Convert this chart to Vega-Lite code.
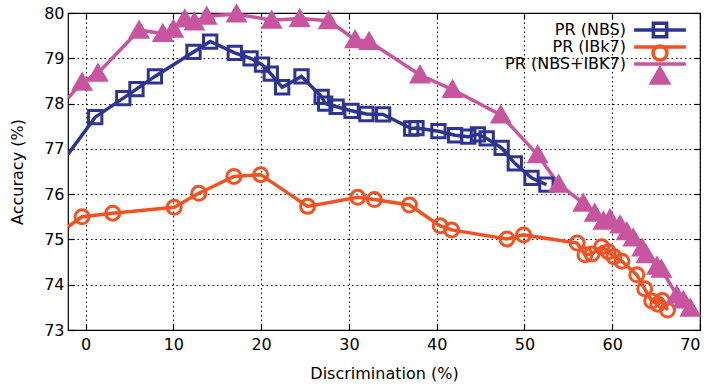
{
  "$schema": "https://vega.github.io/schema/vega-lite/v6.json",
  "width": 632,
  "height": 317,
  "autosize": {"type": "none"},
  "padding": {"left": 68, "top": 13, "right": 13, "bottom": 59},
  "background": "white",
  "config": {
    "font": "DejaVu Sans",
    "view": {"stroke": "black", "strokeWidth": 1.2},
    "axis": {
      "labelFont": "DejaVu Sans",
      "titleFont": "DejaVu Sans",
      "labelFontSize": 16,
      "titleFontSize": 16,
      "titleFontWeight": "normal",
      "labelColor": "black",
      "titleColor": "black",
      "tickColor": "black",
      "tickWidth": 1.2,
      "domain": false
    },
    "legend": {
      "orient": "none",
      "legendX": 583,
      "legendY": 8,
      "title": null,
      "padding": 0,
      "labelFont": "DejaVu Sans",
      "labelFontSize": 16,
      "labelColor": "black",
      "labelAlign": "right",
      "labelOffset": -43,
      "symbolSize": 196,
      "rowPadding": -9,
      "symbolStrokeWidth": 3.5
    }
  },
  "datasets": {
    "acc": [
      {"series": "PR (NBS)", "x": -2, "y": 76.88},
      {"series": "PR (NBS)", "x": 1.1, "y": 77.70},
      {"series": "PR (NBS)", "x": 4.3, "y": 78.12},
      {"series": "PR (NBS)", "x": 5.8, "y": 78.32},
      {"series": "PR (NBS)", "x": 7.9, "y": 78.60},
      {"series": "PR (NBS)", "x": 12.3, "y": 79.14},
      {"series": "PR (NBS)", "x": 14.2, "y": 79.37},
      {"series": "PR (NBS)", "x": 17.0, "y": 79.12},
      {"series": "PR (NBS)", "x": 18.8, "y": 79.00},
      {"series": "PR (NBS)", "x": 20.1, "y": 78.86},
      {"series": "PR (NBS)", "x": 21.1, "y": 78.66},
      {"series": "PR (NBS)", "x": 22.4, "y": 78.36},
      {"series": "PR (NBS)", "x": 24.6, "y": 78.60},
      {"series": "PR (NBS)", "x": 26.9, "y": 78.15},
      {"series": "PR (NBS)", "x": 27.3, "y": 78.00},
      {"series": "PR (NBS)", "x": 28.6, "y": 77.93},
      {"series": "PR (NBS)", "x": 30.3, "y": 77.84},
      {"series": "PR (NBS)", "x": 32.0, "y": 77.77},
      {"series": "PR (NBS)", "x": 33.9, "y": 77.76},
      {"series": "PR (NBS)", "x": 37.1, "y": 77.45},
      {"series": "PR (NBS)", "x": 37.7, "y": 77.46},
      {"series": "PR (NBS)", "x": 40.2, "y": 77.39},
      {"series": "PR (NBS)", "x": 42.1, "y": 77.30},
      {"series": "PR (NBS)", "x": 43.6, "y": 77.27},
      {"series": "PR (NBS)", "x": 44.7, "y": 77.32},
      {"series": "PR (NBS)", "x": 45.7, "y": 77.23},
      {"series": "PR (NBS)", "x": 47.4, "y": 77.02},
      {"series": "PR (NBS)", "x": 48.9, "y": 76.68},
      {"series": "PR (NBS)", "x": 50.8, "y": 76.36},
      {"series": "PR (NBS)", "x": 52.5, "y": 76.21},
      {"series": "PR (IBk7)", "x": -2, "y": 75.28},
      {"series": "PR (IBk7)", "x": -0.4, "y": 75.50},
      {"series": "PR (IBk7)", "x": 3.1, "y": 75.58},
      {"series": "PR (IBk7)", "x": 10.1, "y": 75.71},
      {"series": "PR (IBk7)", "x": 12.9, "y": 76.02},
      {"series": "PR (IBk7)", "x": 16.9, "y": 76.39},
      {"series": "PR (IBk7)", "x": 19.95, "y": 76.43},
      {"series": "PR (IBk7)", "x": 25.3, "y": 75.73},
      {"series": "PR (IBk7)", "x": 31.0, "y": 75.93},
      {"series": "PR (IBk7)", "x": 32.9, "y": 75.88},
      {"series": "PR (IBk7)", "x": 36.9, "y": 75.76},
      {"series": "PR (IBk7)", "x": 40.4, "y": 75.30},
      {"series": "PR (IBk7)", "x": 41.7, "y": 75.21},
      {"series": "PR (IBk7)", "x": 48.0, "y": 75.01},
      {"series": "PR (IBk7)", "x": 49.9, "y": 75.10},
      {"series": "PR (IBk7)", "x": 56.0, "y": 74.92},
      {"series": "PR (IBk7)", "x": 56.9, "y": 74.66},
      {"series": "PR (IBk7)", "x": 57.7, "y": 74.68},
      {"series": "PR (IBk7)", "x": 58.8, "y": 74.84},
      {"series": "PR (IBk7)", "x": 59.55, "y": 74.73},
      {"series": "PR (IBk7)", "x": 60.2, "y": 74.62},
      {"series": "PR (IBk7)", "x": 61.1, "y": 74.52},
      {"series": "PR (IBk7)", "x": 62.8, "y": 74.22},
      {"series": "PR (IBk7)", "x": 63.7, "y": 73.91},
      {"series": "PR (IBk7)", "x": 64.5, "y": 73.64},
      {"series": "PR (IBk7)", "x": 65.2, "y": 73.57},
      {"series": "PR (IBk7)", "x": 65.7, "y": 73.65},
      {"series": "PR (IBk7)", "x": 66.3, "y": 73.44},
      {"series": "PR (NBS+IBK7)", "x": -2, "y": 78.12},
      {"series": "PR (NBS+IBK7)", "x": -0.4, "y": 78.47},
      {"series": "PR (NBS+IBK7)", "x": 1.4, "y": 78.67},
      {"series": "PR (NBS+IBK7)", "x": 6.1, "y": 79.62},
      {"series": "PR (NBS+IBK7)", "x": 8.8, "y": 79.55},
      {"series": "PR (NBS+IBK7)", "x": 10.0, "y": 79.64},
      {"series": "PR (NBS+IBK7)", "x": 11.3, "y": 79.87},
      {"series": "PR (NBS+IBK7)", "x": 12.4, "y": 79.80},
      {"series": "PR (NBS+IBK7)", "x": 13.8, "y": 79.93},
      {"series": "PR (NBS+IBK7)", "x": 17.2, "y": 79.98},
      {"series": "PR (NBS+IBK7)", "x": 21.2, "y": 79.84},
      {"series": "PR (NBS+IBK7)", "x": 24.4, "y": 79.88},
      {"series": "PR (NBS+IBK7)", "x": 27.7, "y": 79.83},
      {"series": "PR (NBS+IBK7)", "x": 30.7, "y": 79.41},
      {"series": "PR (NBS+IBK7)", "x": 32.3, "y": 79.37},
      {"series": "PR (NBS+IBK7)", "x": 38.1, "y": 78.63},
      {"series": "PR (NBS+IBK7)", "x": 41.8, "y": 78.31},
      {"series": "PR (NBS+IBK7)", "x": 47.3, "y": 77.75},
      {"series": "PR (NBS+IBK7)", "x": 51.5, "y": 76.87},
      {"series": "PR (NBS+IBK7)", "x": 53.9, "y": 76.22},
      {"series": "PR (NBS+IBK7)", "x": 56.7, "y": 75.80},
      {"series": "PR (NBS+IBK7)", "x": 58.0, "y": 75.58},
      {"series": "PR (NBS+IBK7)", "x": 59.0, "y": 75.40},
      {"series": "PR (NBS+IBK7)", "x": 59.75, "y": 75.46},
      {"series": "PR (NBS+IBK7)", "x": 60.9, "y": 75.32},
      {"series": "PR (NBS+IBK7)", "x": 61.65, "y": 75.17},
      {"series": "PR (NBS+IBK7)", "x": 62.4, "y": 75.03},
      {"series": "PR (NBS+IBK7)", "x": 63.4, "y": 74.81},
      {"series": "PR (NBS+IBK7)", "x": 63.9, "y": 74.66},
      {"series": "PR (NBS+IBK7)", "x": 65.1, "y": 74.41},
      {"series": "PR (NBS+IBK7)", "x": 65.6, "y": 74.34},
      {"series": "PR (NBS+IBK7)", "x": 67.35, "y": 73.77},
      {"series": "PR (NBS+IBK7)", "x": 68.1, "y": 73.66},
      {"series": "PR (NBS+IBK7)", "x": 68.9, "y": 73.48}
    ]
  },
  "data": {"name": "acc"},
  "resolve": {
    "axis": {"x": "independent", "y": "independent"}
  },
  "layer": [
    {
      "mark": {"type": "line", "strokeWidth": 3.5, "clip": true},
      "encoding": {
        "x": {
          "field": "x", "type": "quantitative",
          "scale": {"domain": [-2, 70], "nice": false, "zero": false},
          "axis": {
            "orient": "bottom", "values": [0, 10, 20, 30, 40, 50, 60, 70],
            "grid": true, "gridColor": "black", "gridDash": [1.5, 3], "gridWidth": 1,
            "tickSize": -6, "labelPadding": 12, "titlePadding": 13
          },
          "title": "Discrimination (%)"
        },
        "y": {
          "field": "y", "type": "quantitative",
          "scale": {"domain": [73, 80], "nice": false, "zero": false},
          "axis": {
            "orient": "left", "values": [73, 74, 75, 76, 77, 78, 79, 80],
            "grid": true, "gridColor": "black", "gridDash": [1.5, 3], "gridWidth": 1,
            "tickSize": -6, "labelPadding": 10, "titlePadding": 18
          },
          "title": "Accuracy (%)"
        },
        "stroke": {
          "field": "series", "type": "nominal",
          "sort": ["PR (NBS)", "PR (IBk7)", "PR (NBS+IBK7)"],
          "scale": {"range": ["#2e3492", "#f05223", "#c8559f"]},
          "legend": {"symbolType": "M-3.7,0L3.7,0", "symbolStrokeWidth": 3.5}
        }
      }
    },
    {
      "transform": [{"filter": "datum.x > -2"}],
      "mark": {"type": "point", "filled": false, "strokeWidth": 3, "opacity": 1, "size": 196},
      "encoding": {
        "x": {
          "field": "x", "type": "quantitative",
          "axis": {
            "orient": "top", "values": [0, 10, 20, 30, 40, 50, 60, 70],
            "labels": false, "grid": false, "tickSize": -6, "title": null
          }
        },
        "y": {
          "field": "y", "type": "quantitative",
          "axis": {
            "orient": "right", "values": [73, 74, 75, 76, 77, 78, 79, 80],
            "labels": false, "grid": false, "tickSize": -6, "title": null
          }
        },
        "color": {
          "field": "series", "type": "nominal",
          "scale": {
            "domain": ["PR (NBS)", "PR (IBk7)", "PR (NBS+IBK7)"],
            "range": ["#2e3492", "#f05223", "#c8559f"]
          },
          "legend": {"labelExpr": "''", "rowPadding": -13}
        },
        "shape": {
          "field": "series", "type": "nominal",
          "scale": {
            "domain": ["PR (NBS)", "PR (IBk7)", "PR (NBS+IBK7)"],
            "range": ["M-0.95,-0.95L0.95,-0.95L0.95,0.95L-0.95,0.95Z", "circle", "M0,-1.1L1.2,1L-1.2,1Z"]
          },
          "legend": {"labelExpr": "''", "rowPadding": -13}
        },
        "fill": {
          "field": "series", "type": "nominal",
          "scale": {
            "domain": ["PR (NBS)", "PR (IBk7)", "PR (NBS+IBK7)"],
            "range": ["transparent", "transparent", "#c8559f"]
          },
          "legend": null
        }
      }
    }
  ]
}
